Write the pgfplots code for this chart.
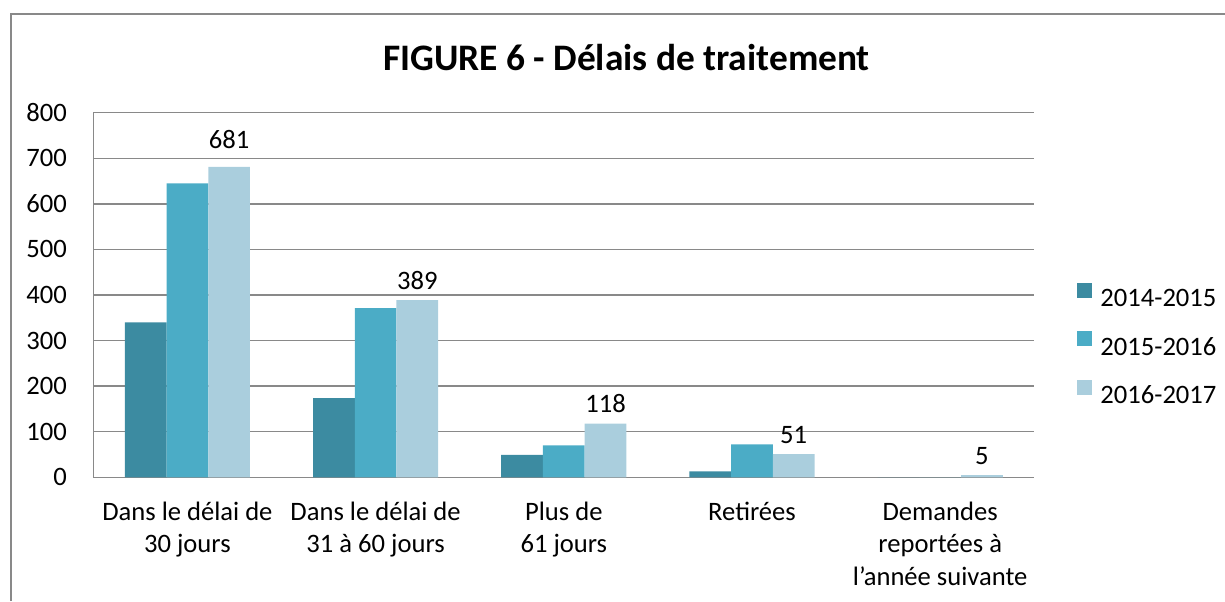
\documentclass[border=0pt]{standalone}
\usepackage{fontspec}
\setmainfont{Carlito}
\usepackage{pgfplots}
\pgfplotsset{compat=1.18}
\definecolor{cA}{HTML}{3C8BA1}
\definecolor{cB}{HTML}{4BACC6}
\definecolor{cC}{HTML}{AACEDD}
\definecolor{gridc}{HTML}{898989}
\pgfplotsset{sq/.style={legend image code/.code={\fill[##1] (0pt,0.25pt) rectangle (7.5pt,7.75pt);}}}
\begin{document}
\begin{tikzpicture}
\useasboundingbox (0,0) rectangle (612.5pt,300.5pt);
\draw[gridc, line width=0.75pt] (5.5pt,0) -- (5.5pt,293.5pt) -- (612.5pt,293.5pt);
\begin{axis}[
 at={(46.65pt,61.85pt)}, anchor=south west,
 width=470.5pt, height=182.3pt, scale only axis,
 ybar=0pt, bar width=0.2216,
 xmin=-0.5, xmax=4.5, ymin=0, ymax=800,
 xtick={0,1,2,3,4}, ytick={0,100,...,800},
 xticklabels={{Dans le délai de\\30 jours},{Dans le délai de\\31 à 60 jours},{Plus de\\61 jours},{Retirées},{Demandes\\reportées à\\l’année suivante}},
 axis x line*=bottom, axis y line*=left,
 axis line style={gridc, line width=0.75pt, -},
 ymajorgrids, major grid style={gridc, line width=0.75pt},
 major tick length=0pt,
 tick label style={font=\fontsize{13.3}{16.4}\selectfont, inner sep=0pt},
 /pgf/number format/assume math mode=true,
 yticklabel shift=13pt,
 xticklabel shift=12pt,
 xticklabel style={align=center, anchor=north},
 title={FIGURE 6 - Délais de traitement},
 every axis title shift=0pt,
 title style={at={(0.5666,1.117)}, anchor=base, font=\fontsize{18.7}{22}\selectfont\bfseries, inner sep=0pt},
 legend style={at={(1.0454,0.368)}, anchor=west, draw=none, fill=none, inner sep=0pt, row sep=12.3pt, column sep=4pt, font=\fontsize{13.3}{15.85}\selectfont, nodes={inner sep=0pt, text height=8.4pt, text depth=0pt}},
 legend cell align=left,
]
\addplot[fill=cA, draw=none, sq] coordinates {(0,340) (1,174) (2,49) (3,13) (4,0)};
\addplot[fill=cB, draw=none, sq] coordinates {(0,645) (1,371) (2,70) (3,72) (4,0)};
\addplot[fill=cC, draw=none, sq, nodes near coords, visualization depends on={y \as \yval},
  every node near coord/.append style={font=\fontsize{13.3}{15.85}\selectfont, anchor=south, inner sep=0pt, yshift={ifthenelse(\yval>600,9,5)}, text=black}] coordinates {(0,681) (1,389) (2,118) (3,51) (4,5)};
\legend{2014-2015,2015-2016,2016-2017}
\end{axis}
\end{tikzpicture}
\end{document}
